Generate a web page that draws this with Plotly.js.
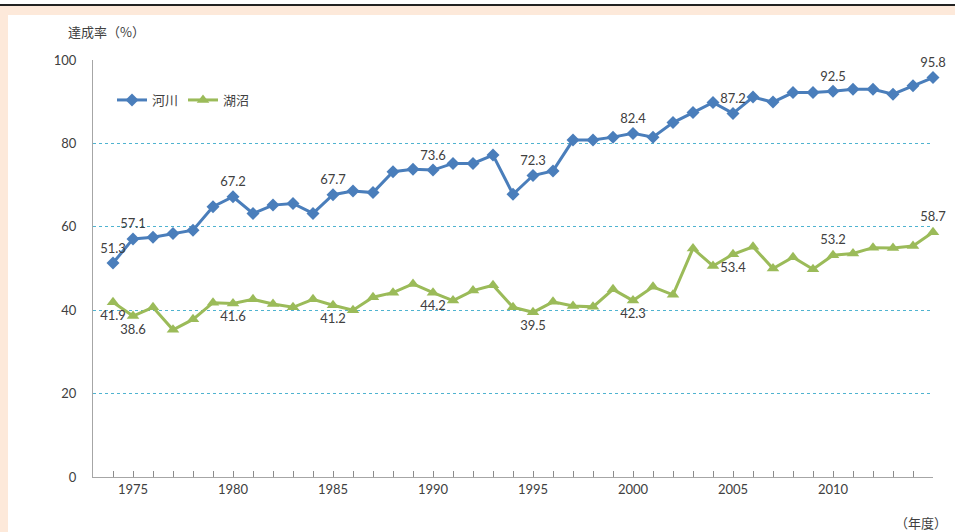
<!DOCTYPE html>
<html>
<head>
<meta charset="utf-8">
<script src="https://cdn.plot.ly/plotly-3.0.1.min.js"></script>
<style>html,body{margin:0;padding:0;background:#fff;}#chart{width:955px;height:532px;}</style>
</head>
<body>
<div id="chart"></div>
<script>
const years = [1974,1975,1976,1977,1978,1979,1980,1981,1982,1983,1984,1985,1986,1987,1988,1989,1990,1991,1992,1993,1994,1995,1996,1997,1998,1999,2000,2001,2002,2003,2004,2005,2006,2007,2008,2009,2010,2011,2012,2013,2014,2015];
const river = [51.3,57.1,57.5,58.4,59.2,64.8,67.2,63.2,65.2,65.6,63.2,67.7,68.6,68.2,73.2,73.8,73.6,75.2,75.2,77.2,67.8,72.3,73.4,80.8,80.8,81.5,82.4,81.5,85.0,87.4,89.8,87.2,91.1,89.9,92.2,92.2,92.5,93.0,93.0,91.8,93.8,95.8];
const lake = [41.9,38.6,40.7,35.3,37.8,41.8,41.6,42.6,41.5,40.7,42.6,41.2,40.0,43.1,44.2,46.3,44.2,42.3,44.7,46.0,40.7,39.5,42.0,41.0,40.8,45.0,42.3,45.6,43.7,54.8,50.6,53.4,55.2,50.0,52.7,49.8,53.2,53.6,55.0,54.9,55.4,58.7];
const labelYears = [1974,1975,1980,1985,1990,1995,2000,2005,2010,2015];
const lakeLabelsAbove = [2010,2015];
const xTickYears = [1975,1980,1985,1990,1995,2000,2005,2010];
const seriesNames = ['河川','湖沼'];
const yTitle = '達成率（%）';
const xTitle = '（年度）';

const numFont = 'Lato, "Noto Sans", sans-serif';
const jpFont = '"Noto Sans CJK JP", sans-serif';
const txtColor = '#404040';

const riverText = years.map((y,i)=> labelYears.includes(y) ? river[i].toFixed(1) : '');
const lakeText = years.map((y,i)=> labelYears.includes(y) ? lake[i].toFixed(1) : '');
const lakePos = years.map(y => lakeLabelsAbove.includes(y) ? 'top center' : 'bottom center');
const tickText = years.map(y => xTickYears.includes(y) ? String(y) : '');

// plot area: x 93..933, y 60..477
const L=93, R=933, T=60, B=477, W=955, H=532;
const px = v => (v-L)/(R-L);
const py = v => (B-v)/(B-T);

const traces = [
  {x: years, y: river, name: seriesNames[0], type:'scatter', mode:'lines+markers+text',
   line:{color:'#4a7ebb', width:3}, marker:{symbol:'diamond', size:10, color:'#4a7ebb'},
   text: riverText, textposition:'top center', textfont:{family:numFont, size:13, color:txtColor},
   cliponaxis:false, hoverinfo:'x+y'},
  {x: years, y: lake, name: seriesNames[1], type:'scatter', mode:'lines+markers+text',
   line:{color:'#9bbb59', width:3}, marker:{symbol:'triangle-up', size:11, color:'#9bbb59'},
   text: lakeText, textposition: lakePos, textfont:{family:numFont, size:13, color:txtColor},
   cliponaxis:false, hoverinfo:'x+y'}
];

const layout = {
  width: W, height: H,
  margin: {l:L, r:W-R, t:T, b:H-B, pad:0},
  paper_bgcolor:'#ffffff', plot_bgcolor:'rgba(0,0,0,0)',
  showlegend:true,
  legend:{orientation:'h', x:px(112), y:py(100), xanchor:'left', yanchor:'middle',
          bgcolor:'rgba(0,0,0,0)', font:{family:jpFont, size:13, color:txtColor},
          itemwidth:30, traceorder:'normal'},
  xaxis:{range:[1973,2015], tickmode:'array', tickvals:years, ticktext:tickText,
         ticks:'inside', ticklen:6, tickwidth:1, tickcolor:'#8c8c8c', showgrid:false, zeroline:false,
         showline:true, linecolor:'#a6a6a6', linewidth:1,
         tickfont:{family:numFont, size:13, color:txtColor}, fixedrange:true},
  yaxis:{range:[0,100], tickmode:'linear', tick0:0, dtick:20, ticks:'',
         showgrid:true, gridcolor:'#4fb3d0', griddash:'dot', gridwidth:1,
         zeroline:false, showline:true, linecolor:'#a6a6a6', linewidth:1,
         tickfont:{family:numFont, size:13, color:txtColor}, ticklabelstandoff:13, fixedrange:true},
  shapes:[
    {type:'rect', xref:'paper', yref:'paper', x0:px(0), x1:px(W), y0:py(H), y1:py(5), fillcolor:'#fde9da', line:{width:0}, layer:'below'},
    {type:'rect', xref:'paper', yref:'paper', x0:px(8), x1:px(W), y0:py(H), y1:py(15), fillcolor:'#ffffff', line:{width:0}, layer:'below'},
    {type:'line', xref:'paper', yref:'paper', x0:px(0), x1:px(W), y0:py(5), y1:py(5), line:{color:'#222222', width:2}, layer:'below'}
  ],
  annotations:[
    {text:yTitle, xref:'paper', yref:'paper', x:px(66), y:py(32), xanchor:'left', yanchor:'middle', showarrow:false,
     font:{family:jpFont, size:13, color:txtColor}},
    {text:xTitle, xref:'paper', yref:'paper', x:px(949), y:py(522), xanchor:'right', yanchor:'middle', showarrow:false,
     font:{family:jpFont, size:13, color:txtColor}}
  ]
};

Plotly.newPlot('chart', traces, layout, {displayModeBar:false, staticPlot:true});
</script>
</body>
</html>
